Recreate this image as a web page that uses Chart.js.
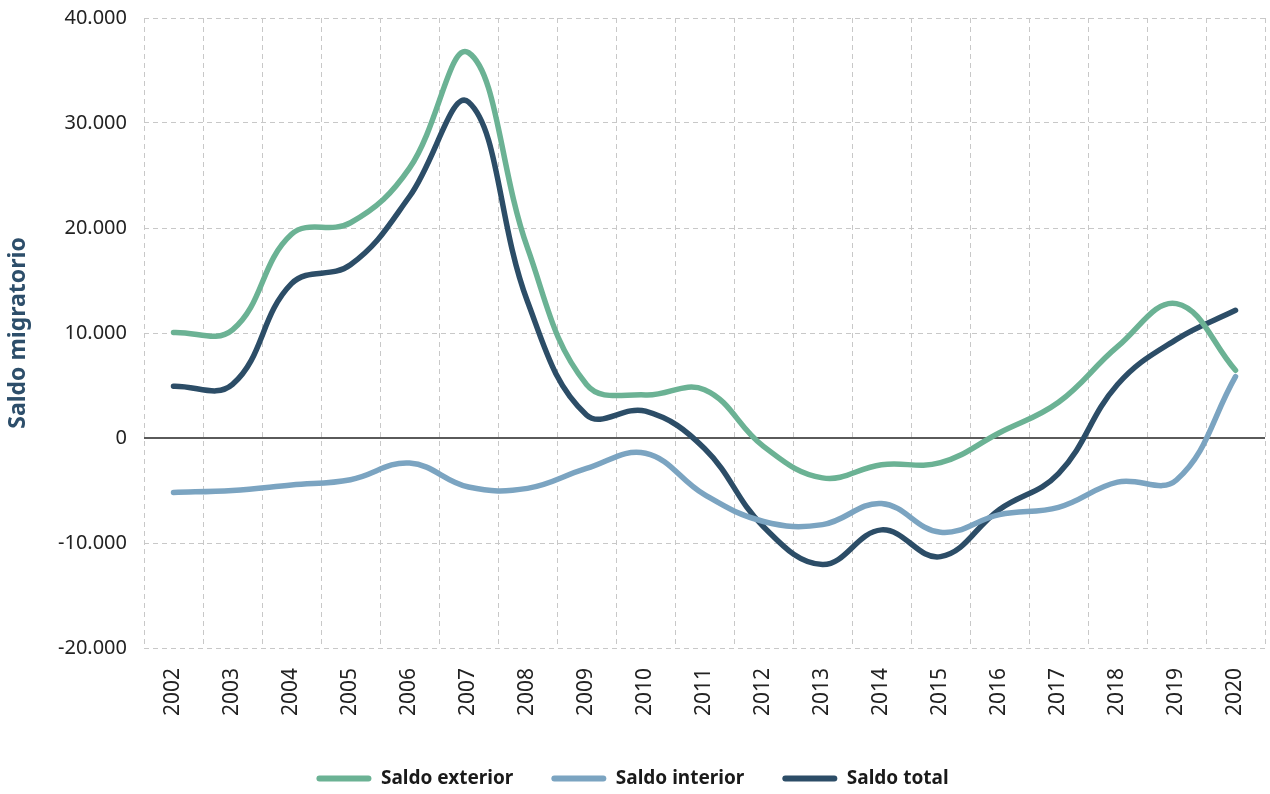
<!DOCTYPE html>
<html>
<head>
<meta charset="utf-8">
<script src="https://cdn.jsdelivr.net/npm/chart.js@4"></script>
<style>
  body { margin: 0; background: #fff; }
  #wrap { width: 1270px; height: 794px; position: relative; }
</style>
</head>
<body>
<div id="wrap"><canvas id="chart"></canvas></div>
<script>
const years = ["2002", "2003", "2004", "2005", "2006", "2007", "2008", "2009", "2010", "2011",
               "2012", "2013", "2014", "2015", "2016", "2017", "2018", "2019", "2020"];
const saldoExterior = [10050, 10300, 19400, 20500, 25700, 36700, 18100, 5100, 4100, 4600,
                       -800, -3800, -2550, -2350, 500, 3400, 8700, 12800, 6450];
const saldoInterior = [-5180, -5000, -4480, -3970, -2380, -4670, -4800, -2900, -1450, -5400,
                       -7950, -8250, -6240, -8980, -7300, -6600, -4200, -4000, 5840];
const saldoTotal = [4930, 5100, 14700, 16500, 23000, 32000, 13000, 2200, 2550, -1000,
                    -8450, -12050, -8750, -11300, -6800, -3400, 5100, 9400, 12160];
const yTicks = [-20000, -10000, 0, 10000, 20000, 30000, 40000];

const fmt = v => {
    const s = Math.abs(v).toString().replace(/\B(?=(\d{3})+(?!\d))/g, ".");
    return (v < 0 ? "-" : "") + s;
};

// solid line at zero, under the series
const zeroLine = {
    id: "zeroLine",
    beforeDatasetsDraw(chart) {
        const y = chart.scales.y.getPixelForValue(0);
        const { left, right } = chart.chartArea;
        const ctx = chart.ctx;
        ctx.save();
        ctx.strokeStyle = "#5a5a5a";
        ctx.lineWidth = 2;
        ctx.beginPath();
        ctx.moveTo(left, y);
        ctx.lineTo(right, y);
        ctx.stroke();
        ctx.restore();
    }
};

const line = (label, data, color) => ({
    label: label,
    data: data,
    borderColor: color,
    backgroundColor: color,
    borderWidth: 5.5,
    borderCapStyle: "round",
    pointRadius: 0,
    tension: 0.4,
    fill: false,
});

new Chart(document.getElementById("chart"), {
    type: "line",
    data: {
        labels: years,
        datasets: [
            line("Saldo exterior", saldoExterior, "#6bb294"),
            line("Saldo interior", saldoInterior, "#7ba4c1"),
            line("Saldo total", saldoTotal, "#2c4d67"),
        ],
    },
    options: {
        responsive: true,
        maintainAspectRatio: false,
        animation: false,
        layout: { padding: { top: 18, right: 5, bottom: -4, left: 0 } },
        plugins: {
            tooltip: { enabled: false },
            legend: {
                position: "bottom",
                labels: {
                    boxWidth: 55,
                    boxHeight: 6,
                    padding: 38,
                    color: "#1a1a1a",
                    font: { family: "Noto Sans", size: 19, weight: "bold" },
                    useBorderRadius: true,
                    borderRadius: 3,
                    generateLabels(chart) {
                        const items = Chart.defaults.plugins.legend.labels.generateLabels(chart);
                        items.forEach(it => { it.lineWidth = 0; it.fillStyle = it.strokeStyle; });
                        return items;
                    },
                },
            },
        },
        scales: {
            x: {
                offset: true,
                grid: { offset: true, color: "#c8c8c8", lineWidth: 1, drawTicks: false },
                border: { display: false, dash: [5, 4] },
                ticks: {
                    minRotation: 90,
                    maxRotation: 90,
                    padding: 20,
                    color: "#222",
                    font: { family: "Noto Sans", size: 21 },
                },
                afterFit(scale) {
                    scale.height = 83;
                    scale.paddingLeft = 0;
                    scale.paddingRight = 0;
                },
            },
            y: {
                min: -20000,
                max: 40000,
                afterBuildTicks(scale) { scale.ticks = yTicks.map(v => ({ value: v })); },
                grid: { color: "#c8c8c8", lineWidth: 1, drawTicks: false },
                border: { display: false, dash: [5, 4] },
                ticks: {
                    padding: 17,
                    color: "#222",
                    font: { family: "Noto Sans", size: 20 },
                    callback: v => fmt(v),
                },
                title: {
                    display: true,
                    text: "Saldo migratorio",
                    color: "#2d4e6a",
                    padding: { top: 5, bottom: 0 },
                    font: { family: "Noto Sans", size: 23, weight: "bold" },
                },
                afterFit(scale) {
                    scale.width = 144;
                    scale.paddingTop = 0;
                    scale.paddingBottom = 0;
                },
            },
        },
    },
    plugins: [zeroLine],
});
</script>
</body>
</html>
